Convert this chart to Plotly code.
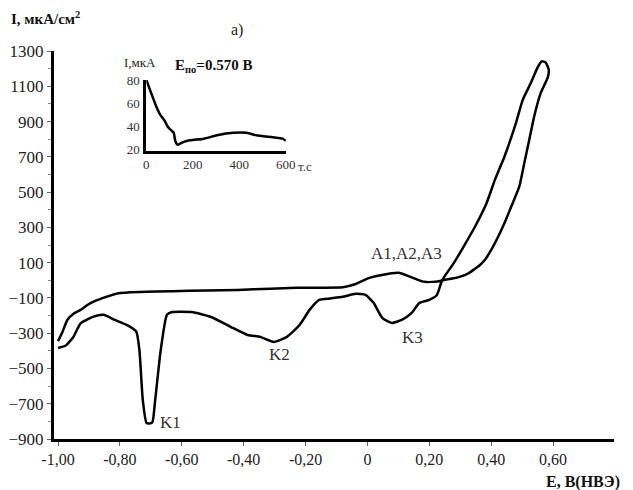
import plotly.graph_objects as go

# Cyclic voltammogram: forward (anodic) sweep from -1.00 V up to the turning point
E_forward = [-1.00, -0.985, -0.97, -0.95, -0.927, -0.905, -0.885, -0.842, -0.805, -0.737,
             -0.632, -0.52, -0.419, -0.314, -0.229, -0.15, -0.08, -0.038, 0.004, 0.047,
             0.10, 0.131, 0.163, 0.184, 0.226, 0.248, 0.275, 0.30, 0.325, 0.343, 0.363,
             0.38, 0.406, 0.438, 0.465, 0.491, 0.507, 0.523, 0.539, 0.56, 0.574, 0.583,
             0.586, 0.576, 0.563]
I_forward = [-345, -290, -225, -190, -168, -140, -121, -93, -73, -66,
             -62, -58, -55, -48, -43, -42, -40, -21, 12, 30,
             42, 25, 2, -9, -7, 2, 10, 21, 38, 59, 85,
             116, 191, 305, 418, 532, 664, 796, 929, 1061, 1115, 1150,
             1194, 1235, 1241]

# Reverse (cathodic) sweep back to -1.00 V
E_reverse = [0.549, 0.528, 0.502, 0.48, 0.443, 0.412, 0.385, 0.348, 0.311, 0.279,
             0.242, 0.224, 0.2, 0.168, 0.143, 0.111, 0.079, 0.048, 0.02, -0.006,
             -0.038, -0.08, -0.12, -0.156, -0.187, -0.219, -0.26, -0.302, -0.346, -0.387,
             -0.441, -0.505, -0.568, -0.632, -0.648, -0.668, -0.686, -0.695, -0.705, -0.714,
             -0.726, -0.737, -0.747, -0.778, -0.816, -0.853, -0.885, -0.927, -0.95, -0.975, -1.00]
I_reverse = [1203, 1118, 1023, 891, 702, 569, 437, 305, 191, 97,
             2, -85, -111, -128, -185, -225, -242, -213, -128, -83,
             -77, -94, -103, -111, -168, -253, -321, -350, -321, -310,
             -265, -208, -180, -180, -196, -395, -680, -805, -812, -809,
             -680, -395, -291, -253, -225, -196, -206, -244, -320, -370, -384]

# Chronoamperogram at the polarisation potential
t_inset = [0, 22, 44, 58, 79, 93, 107, 118, 124, 135, 149, 177, 248, 304, 375, 431, 473, 544, 586, 600]
I_inset = [80, 68, 56.5, 50.6, 44.7, 39.4, 36.5, 34.4, 27.6, 24.1, 25.6, 27.6, 29.4, 32.3, 34.4,
           34.4, 32.3, 30.6, 29.4, 27.5]

y_ticks = [1300, 1100, 900, 700, 500, 300, 100, -100, -300, -500, -700, -900]
x_ticks = [-1.0, -0.8, -0.6, -0.4, -0.2, 0.0, 0.2, 0.4, 0.6]
x_tick_text = ["-1,00", "-0,80", "-0,60", "-0,40", "-0,20", "0", "0,20", "0,40", "0,60"]

peak_labels = [("K1", -0.635, -805), ("K2", -0.283, -423), ("K3", 0.146, -327), ("A1,A2,A3", 0.127, 150)]

SERIF = "Liberation Serif"
W, H = 633, 490
ML, MR, MT, MB = 54, 9, 51, 51
PW, PH = W - ML - MR, H - MT - MB


def px(x):
    return (x - ML) / PW


def py(y):
    return (H - MB - y) / PH


fig = go.Figure()
fig.add_trace(go.Scatter(
    x=E_forward + E_reverse, y=I_forward + I_reverse,
    mode="lines", line=dict(color="black", width=2.5, shape="spline", smoothing=0.5),
    showlegend=False, hoverinfo="skip"))

fig.add_trace(go.Scatter(
    x=t_inset, y=I_inset, xaxis="x2", yaxis="y2",
    mode="lines", line=dict(color="black", width=2.5, shape="spline", smoothing=0.5),
    showlegend=False, hoverinfo="skip"))

fig.update_layout(
    width=W, height=H,
    margin=dict(l=ML, r=MR, t=MT, b=MB),
    paper_bgcolor="white", plot_bgcolor="white",
    font=dict(family=SERIF, color="#222"),
    xaxis=dict(range=[-1.013, 0.797], tickvals=x_ticks, ticktext=x_tick_text,
               showgrid=False, zeroline=False, showline=True, linecolor="black", linewidth=3,
               ticks="outside", ticklen=4, tickcolor="#666", tickfont=dict(size=16, family=SERIF)),
    yaxis=dict(range=[-900, 1300], tickvals=y_ticks,
               showgrid=False, zeroline=False, showline=True, linecolor="black", linewidth=3,
               ticks="outside", ticklen=4, tickcolor="#666", tickfont=dict(size=17, family=SERIF),
               minor=dict(dtick=100, tick0=0, ticks="outside", ticklen=3, tickcolor="#888")),
    xaxis2=dict(domain=[px(148), px(290)], anchor="y2", range=[0, 600],
                tickvals=[0, 200, 400, 600], showgrid=False, zeroline=False,
                showline=True, linecolor="black", linewidth=3, ticks="",
                ticklabelstandoff=0,
                tickfont=dict(size=13, family=SERIF, color="#333")),
    yaxis2=dict(domain=[py(150.7), py(80)], anchor="x2", range=[19, 80],
                tickvals=[20, 40, 60, 80], showgrid=False, zeroline=False,
                showline=True, linecolor="black", linewidth=3, ticks="",
                ticklabelstandoff=1,
                tickfont=dict(size=13, family=SERIF, color="#333")),
)

annotations = [
    dict(x=px(8), y=py(18), text="<b>I, мкА/см<sup>2</sup></b>", xanchor="left", yanchor="middle",
         font=dict(size=15, family=SERIF, color="#111")),
    dict(x=px(240), y=py(30), text="а)", xanchor="center", yanchor="middle",
         font=dict(size=16, family=SERIF, color="#222")),
    dict(x=px(553), y=py(482), text="<b>E, В(НВЭ)</b>", xanchor="left", yanchor="middle",
         font=dict(size=16, family=SERIF, color="#111")),
    dict(x=px(142), y=py(62), text="I,мкА", xanchor="center", yanchor="middle",
         font=dict(size=13, family=SERIF, color="#222")),
    dict(x=px(175), y=py(66), text="<b>E<sub>по</sub>=0.570 В</b>", xanchor="left", yanchor="middle",
         font=dict(size=15, family=SERIF, color="#111")),
    dict(x=px(300), y=py(166), text="т.с", xanchor="left", yanchor="middle",
         font=dict(size=13, family=SERIF, color="#333")),
]
for name, ex, iy in peak_labels:
    annotations.append(dict(x=ex, y=iy, xref="x", yref="y", text=name, showarrow=False,
                            xanchor="center", yanchor="middle",
                            font=dict(size=17, family=SERIF, color="#333")))
for a in annotations:
    a.setdefault("xref", "paper")
    a.setdefault("yref", "paper")
    a["showarrow"] = False
fig.update_layout(annotations=annotations)

fig.write_html("out.html")
